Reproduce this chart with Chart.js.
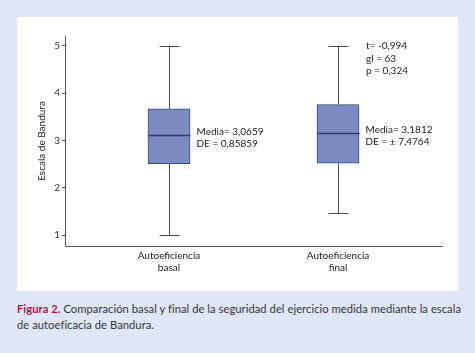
<!DOCTYPE html>
<html>
<head>
<meta charset="utf-8">
<script src="https://cdn.jsdelivr.net/npm/chart.js@4"></script>
<style>
  body { margin: 0; width: 475px; height: 353px; background: #dfe6f6; position: relative; overflow: hidden; font-family: Lato, sans-serif; }
  #panel { position: absolute; left: 17px; top: 17px; width: 441px; height: 274px; background: #fff; }
  #caption { position: absolute; left: 17px; top: 301px; font-size: 11.2px; letter-spacing: 0.05px; line-height: 16px; color: #333; white-space: nowrap; }
  #caption b { color: #b3143c; }
</style>
</head>
<body>
<div id="panel"><canvas id="chart" width="441" height="274"></canvas></div>
<div id="caption"><b>Figura 2.</b> Comparación basal y final de la seguridad del ejercicio medida mediante la escala<br>de autoeficacia de Bandura.</div>
<script>
// Box plot data
const categories = [['Autoeficiencia', 'basal'], ['Autoeficiencia', 'final']];
const positions = [1, 2];
const mins = [1, 1.46];
const q1s = [2.51, 2.52];
const medians = [3.11, 3.16];
const q3s = [3.67, 3.76];
const maxs = [5, 5];
const yTicks = [1, 2, 3, 4, 5];
const boxNotes = [['Media= 3,0659', 'DE = 0,85859'], ['Media= 3,1812', 'DE = \u00b1 7,4764']];
const testNotes = ['t= -0,994', 'gl = 63', 'p = 0,324'];

const FONT = 'Lato, sans-serif';

// whiskers, medians and the text notes
const boxExtras = {
  id: 'boxExtras',
  afterDatasetsDraw(chart) {
    const ctx = chart.ctx;
    const x = chart.scales.x, y = chart.scales.y;
    ctx.save();
    positions.forEach((p, i) => {
      const cx = Math.round(x.getPixelForValue(p)) + 0.5;
      ctx.strokeStyle = '#4a4a4a';
      ctx.lineWidth = 1;
      ctx.beginPath();
      ctx.moveTo(cx, y.getPixelForValue(maxs[i]));
      ctx.lineTo(cx, y.getPixelForValue(q3s[i]));
      ctx.moveTo(cx, y.getPixelForValue(q1s[i]));
      ctx.lineTo(cx, y.getPixelForValue(mins[i]));
      [maxs[i], mins[i]].forEach(v => {
        const py = Math.round(y.getPixelForValue(v)) + 0.5;
        ctx.moveTo(cx - 10, py);
        ctx.lineTo(cx + 10, py);
      });
      ctx.stroke();

      // median
      const my = Math.round(y.getPixelForValue(medians[i])) + 0.5;
      ctx.strokeStyle = '#2b3770';
      ctx.lineWidth = 1.5;
      ctx.beginPath();
      ctx.moveTo(cx - 21, my);
      ctx.lineTo(cx + 21, my);
      ctx.stroke();

      ctx.fillStyle = '#222';
      ctx.font = '10px ' + FONT;
      ctx.textBaseline = 'middle';
      ctx.textAlign = 'left';
      ctx.fillText(boxNotes[i][0], cx + 27, my - 4);
      ctx.fillText(boxNotes[i][1], cx + 27, my + 8.5);
    });
    const tx = x.getPixelForValue(positions[1]) + 28;
    const ty = y.getPixelForValue(maxs[1]);
    testNotes.forEach((t, k) => ctx.fillText(t, tx, ty + k * 12.5));
    ctx.restore();
  }
};

new Chart(document.getElementById('chart'), {
  type: 'bar',
  data: {
    datasets: [{
      data: positions.map((p, i) => ({ x: p, y: [q1s[i], q3s[i]] })),
      backgroundColor: '#7b8bc3',
      borderColor: '#3b4780',
      borderWidth: 1,
      borderSkipped: false,
      barThickness: 42
    }]
  },
  options: {
    responsive: false,
    animation: false,
    devicePixelRatio: 1,
    layout: { padding: { left: 0, top: 19, right: 16, bottom: 0 } },
    plugins: { legend: { display: false }, tooltip: { enabled: false } },
    scales: {
      x: {
        type: 'linear',
        min: 0.385,
        max: 2.615,
        offset: false,
        afterBuildTicks: s => { s.ticks = positions.map(v => ({ value: v })); },
        afterFit: s => { s.height = 45; },
        grid: { drawOnChartArea: false, drawTicks: false, offset: false },
        border: { color: '#555', width: 1 },
        ticks: {
          padding: 4,
          color: '#222',
          font: { family: FONT, size: 10 },
          callback: (v) => categories[positions.indexOf(v)] || ''
        }
      },
      y: {
        min: 0.77,
        max: 5.21,
        afterBuildTicks: s => { s.ticks = yTicks.map(v => ({ value: v })); },
        afterFit: s => { s.width = 48; },
        grid: { drawOnChartArea: false, tickLength: 3, color: '#555' },
        border: { color: '#555', width: 1 },
        ticks: { padding: 2, color: '#333', font: { family: FONT, size: 10 } },
        title: {
          display: true,
          text: 'Escala de Bandura',
          color: '#222',
          font: { family: FONT, size: 10 },
          padding: { top: 19, bottom: 0 }
        }
      }
    }
  },
  plugins: [boxExtras]
});
</script>
</body>
</html>
